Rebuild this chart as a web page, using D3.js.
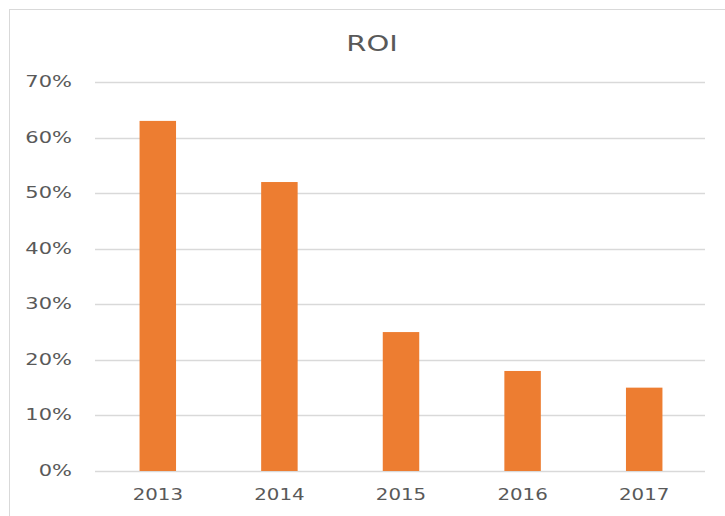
<!DOCTYPE html>
<html>
<head>
<meta charset="utf-8">
<script src="https://cdn.jsdelivr.net/npm/d3@7"></script>
<style>
  html, body { margin: 0; padding: 0; background: #fff; }
  text { font-family: "DejaVu Sans", sans-serif; fill: #595959; }
</style>
</head>
<body>
<div id="chart"></div>
<script>
const years = ['2013', '2014', '2015', '2016', '2017'];
const roi = [0.63, 0.52, 0.25, 0.18, 0.15];
const yTicks = [0, 0.1, 0.2, 0.3, 0.4, 0.5, 0.6, 0.7];

const W = 725, H = 516;
const margin = { top: 82, right: 20, bottom: 45, left: 97 };
const plotRight = 705;

const svg = d3.select('#chart').append('svg')
    .attr('width', W)
    .attr('height', H);

// chart frame
svg.append('rect')
    .attr('x', 9.5).attr('y', 9.5)
    .attr('width', W + 20).attr('height', H + 20)
    .attr('fill', '#fff')
    .attr('stroke', '#d9d9d9');

const x = d3.scaleBand()
    .domain(years)
    .range([margin.left, plotRight])
    .paddingInner(0.7)
    .paddingOuter(0.35);

const y = d3.scaleLinear()
    .domain([0, 0.7])
    .range([471, margin.top]);

// gridlines
svg.append('g')
    .selectAll('line')
    .data(yTicks)
    .join('line')
    .attr('x1', margin.left - 2)
    .attr('x2', plotRight)
    .attr('y1', d => Math.round(y(d)) + 0.5)
    .attr('y2', d => Math.round(y(d)) + 0.5)
    .attr('stroke', '#d9d9d9')
    .attr('stroke-width', 1.5);

// bars
svg.append('g')
    .selectAll('rect')
    .data(roi)
    .join('rect')
    .attr('x', (d, i) => x(years[i]))
    .attr('width', x.bandwidth())
    .attr('y', d => y(d))
    .attr('height', d => y(0) - y(d))
    .attr('fill', '#ed7d31');

// text in the picture is wide, so stretch it sideways
function stretchedText(parent, tx, ty, label, size, anchor, sx) {
    parent.append('g')
        .attr('transform', `translate(${tx},${ty}) scale(${sx},1)`)
        .append('text')
        .attr('text-anchor', anchor)
        .attr('font-size', size)
        .text(label);
}

// y labels
const fmt = d3.format('.0%');
const yAxis = svg.append('g');
yTicks.forEach(t => stretchedText(yAxis, 72, y(t) + 5, fmt(t), 15, 'end', 1.4));

// x labels
const xAxis = svg.append('g');
years.forEach(yr => stretchedText(xAxis, x(yr) + x.bandwidth() / 2, 500, yr, 15, 'middle', 1.32));

// title
stretchedText(svg, 372, 51, 'ROI', 21, 'middle', 1.38);
</script>
</body>
</html>
